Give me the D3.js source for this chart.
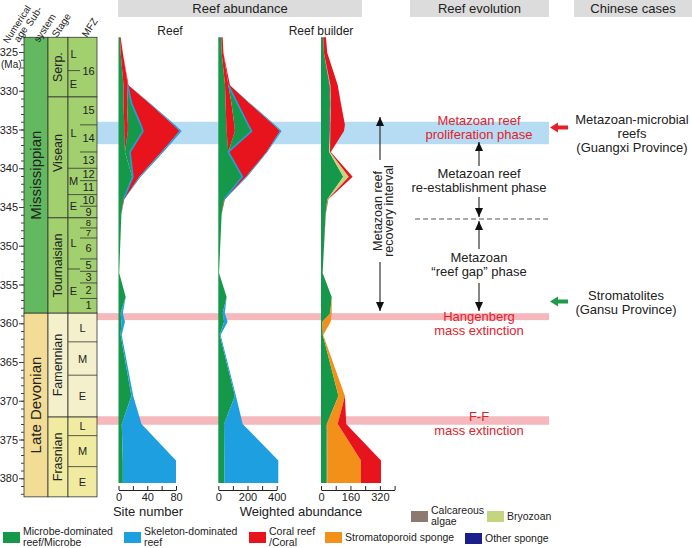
<!DOCTYPE html>
<html>
<head>
<meta charset="utf-8">
<script src="https://cdn.jsdelivr.net/npm/d3@7"></script>
<style>
  body { margin: 0; background: #fff; }
  svg { font-family: Arial, "Liberation Sans", sans-serif; }
</style>
</head>
<body>
<script>
// ---------- data ----------
var ages = [323.1, 325.1, 329.3, 331.6, 334.4, 335.2, 337.9, 341.1, 344.0, 345.9,
            353.5, 356.6, 358.7, 359.8, 361.5, 369.4, 373.0, 377.7, 380.6];

// Reef (site number)
var siteMicrobe        = [2, 3, 7, 7, 8, 8, 9, 19, 7, 4, 1, 10, 3, 4, 3, 18, 4.5, 6, 6];
var siteMicrobeCoral   = [1, 3, 6, 5, 5, 5, 0, 0, 0, 0, 0, 0, 0, 0, 0, 0, 0, 0, 0];
var siteMicrobeB       = [0, 0, 0, 6, 18, 21, 7, 1, 0, 0, 0, 0, 0, 0, 0, 0, 0, 0, 0];
var siteSkeletonCoral  = [0, 0, 1, 25, 45, 51, 44, 9, 1, 0, 0, 0, 0, 0, 0, 0, 0, 0, 0];
var siteSkeleton       = [0, 0, 0, 1, 2.5, 3, 2.5, 2, 0, 0, 0, 0, 3, 5, 1.5, 2.5, 27.5, 74, 74];

// Reef (weighted abundance)
var wtMicrobe          = [20, 23, 46, 50, 55, 57, 69, 165, 40, 23, 5, 57, 30, 40, 10, 114, 39, 41, 41];
var wtMicrobeCoral     = [10, 12, 23, 40, 55, 57, 0, 0, 0, 0, 0, 0, 0, 0, 0, 0, 0, 0, 0];
var wtMicrobeB         = [0, 0, 0, 40, 95, 114, 0, 0, 0, 0, 0, 0, 0, 0, 0, 0, 0, 0, 0];
var wtSkeletonCoral    = [0, 0, 11, 83, 173, 195, 262, 25, 5, 0, 0, 0, 0, 0, 0, 0, 0, 0, 0];
var wtSkeleton         = [0, 0, 0, 5, 10, 11, 5, 8, 0, 0, 0, 0, 15, 24, 6, 7, 128, 370, 370];

// Reef builder (weighted abundance)
var bMicrobe           = [12, 16, 45, 49, 45, 45, 45, 121, 35, 25, 9, 58, 50, 8, 10, 95, 31, 31, 31];
var bAlgae             = [0, 0, 0, 0, 0, 0, 0, 0, 0, 0, 0, 0, 0, 0, 0, 0, 2, 3, 3];
var bOtherSponge       = [0, 0, 3, 3, 3, 3, 0, 0, 0, 0, 0, 0, 0, 0, 0, 0, 0, 0, 0];
var bBryozoan          = [0, 0, 3, 2, 3, 3, 4, 30, 2, 0, 0, 0, 0, 0, 0, 0, 0, 0, 0];
var bStromatoporoid    = [0, 0, 0, 0, 0, 0, 0, 0, 0, 0, 0, 0, 8, 45, 2, 35, 58, 183, 183];
var bCoral             = [15, 18, 40, 54, 79, 74, 4, 21, 3, 1, 0, 0, 0, 0, 0, 0, 46, 109, 109];

// stratigraphy
var subsystems     = ["Mississippian", "Late Devonian"];
var subsystemTops  = [323.1, 358.7];
var subsystemBases = [358.7, 382.4];
var stages         = ["Serp.", "Visean", "Tournaisian", "Famennian", "Frasnian"];
var stageTops      = [323.1, 330.8, 346.4, 358.7, 372.1];
var stageBases     = [330.8, 346.4, 358.7, 372.1, 382.4];
var subLabels      = ["L", "E", "L", "M", "E", "L", "E", "L", "M", "E", "L", "M", "E"];
var subTops        = [323.1, 327.4, 330.8, 340.0, 343.4, 346.4, 353.0, 358.7, 362.4, 366.7, 372.1, 374.5, 378.5];
var subBases       = [327.4, 330.8, 340.0, 343.4, 346.4, 353.0, 358.7, 362.4, 366.7, 372.1, 374.5, 378.5, 382.4];
var zoneLabels     = ["16", "15", "14", "13", "12", "11", "10", "9", "8", "7", "6", "5", "3", "2", "1"];
var zoneTops       = [323.1, 330.8, 334.4, 337.9, 340.0, 341.6, 343.4, 344.9, 346.4, 347.7, 349.0, 351.7, 353.3, 354.8, 356.8];
var zoneBases      = [330.8, 334.4, 337.9, 340.0, 341.6, 343.4, 344.9, 346.4, 347.7, 349.0, 351.7, 353.3, 354.8, 356.8, 358.7];

// events
var proliferation = [334.0, 336.9];
var hangenberg    = [358.7, 359.6];
var frasFam       = [372.0, 373.1];

// axis ticks
var siteTicks = [0, 20, 40, 60, 80],            siteLabels = [0, 40, 80];
var wtTicks   = [0, 100, 200, 300, 400],        wtLabels   = [0, 200, 400];
var bTicks    = [0, 80, 160, 240, 320, 400],    bLabels    = [0, 160, 320];

// colours
var cGreen = "#16984a", cBlue = "#1ea0e0", cRed = "#e8141d", cOrange = "#f39019",
    cNavy = "#1a1f8c", cAlgae = "#8c7a70", cBryo = "#c5d47e";

// ---------- canvas ----------
var svg = d3.select("body").append("svg").attr("width", 692).attr("height", 548);

var y = d3.scaleLinear().domain([325, 380]).range([52, 478.25]);

// header bars
function header(x0, x1, label) {
  svg.append("rect").attr("x", x0).attr("y", 0).attr("width", x1 - x0).attr("height", 17).attr("fill", "#dcdcdc");
  svg.append("text").attr("x", (x0 + x1) / 2).attr("y", 13).attr("text-anchor", "middle")
    .attr("font-size", 13).attr("fill", "#222").text(label);
}
header(118, 362, "Reef abundance");
header(410, 549, "Reef evolution");
header(574, 692, "Chinese cases");

// event bands
svg.append("rect").attr("x", 97).attr("width", 452).attr("y", y(proliferation[0]))
  .attr("height", y(proliferation[1]) - y(proliferation[0])).attr("fill", "#b5dcf2");
[hangenberg, frasFam].forEach(function(b) {
  svg.append("rect").attr("x", 97).attr("width", 452).attr("y", y(b[0]))
    .attr("height", y(b[1]) - y(b[0])).attr("fill", "#f5b9bd");
});

// ---------- stratigraphic columns ----------
var colSub = [24, 48], colStage = [48, 68], colMfz = [68, 97], zoneX = 80;
var strat = svg.append("g");

subsystems.forEach(function(s, i) {
  strat.append("rect").attr("x", colSub[0]).attr("width", colSub[1] - colSub[0])
    .attr("y", y(subsystemTops[i])).attr("height", y(subsystemBases[i]) - y(subsystemTops[i]))
    .attr("fill", i == 0 ? "#62b95f" : "#f2dc96").attr("stroke", "#333").attr("stroke-width", 0.8);
  var cy = (y(subsystemTops[i]) + y(subsystemBases[i])) / 2;
  strat.append("text").attr("transform", "translate(" + 41 + "," + cy + ") rotate(-90)")
    .attr("text-anchor", "middle").attr("font-size", 15).attr("fill", "#222").text(s);
});

var stageFill = ["#a2d06f", "#a2d06f", "#a2d06f", "#f4f0cc", "#f0eba0"];
stages.forEach(function(s, i) {
  [colStage, colMfz].forEach(function(c) {
    strat.append("rect").attr("x", c[0]).attr("width", c[1] - c[0])
      .attr("y", y(stageTops[i])).attr("height", y(stageBases[i]) - y(stageTops[i]))
      .attr("fill", stageFill[i]).attr("stroke", "#333").attr("stroke-width", 0.8);
  });
  var cy = (y(stageTops[i]) + y(stageBases[i])) / 2;
  if (s == "Visean") cy = 153;
  strat.append("text").attr("transform", "translate(" + 62 + "," + cy + ") rotate(-90)")
    .attr("text-anchor", "middle").attr("font-size", 12.5).attr("fill", "#222").text(s);
});

// substages
subLabels.forEach(function(s, i) {
  var devonian = subTops[i] >= 358.7;
  if (i > 0 && stageTops.indexOf(subTops[i]) < 0) {
    strat.append("line").attr("x1", colMfz[0]).attr("x2", devonian ? colMfz[1] : zoneX)
      .attr("y1", y(subTops[i])).attr("y2", y(subTops[i])).attr("stroke", "#333").attr("stroke-width", 0.8);
  }
  strat.append("text").attr("x", devonian ? 82.5 : 73.5).attr("y", (y(subTops[i]) + y(subBases[i])) / 2 + 4)
    .attr("text-anchor", "middle").attr("font-size", 11).attr("fill", "#222").text(s);
});

// zones
zoneLabels.forEach(function(z, i) {
  if (i > 0 && stageTops.indexOf(zoneTops[i]) < 0) {
    strat.append("line").attr("x1", zoneX).attr("x2", colMfz[1])
      .attr("y1", y(zoneTops[i])).attr("y2", y(zoneTops[i])).attr("stroke", "#333").attr("stroke-width", 0.8);
  }
  var cy = (y(zoneTops[i]) + y(zoneBases[i])) / 2;
  if (z == "16") cy = 71;
  var h = y(zoneBases[i]) - y(zoneTops[i]);
  strat.append("text").attr("x", 88.5).attr("y", cy + 3.5).attr("text-anchor", "middle")
    .attr("font-size", h < 11 ? 9.5 : 11).attr("fill", "#222").text(z);
});

// age axis
svg.append("g").attr("transform", "translate(24,0)")
  .call(d3.axisLeft(y).tickValues(d3.range(323, 383)).tickSize(3).tickFormat(""))
  .call(function(g) { g.select(".domain").remove(); g.selectAll("line").attr("stroke", "#444"); });
svg.append("g").attr("transform", "translate(24,0)")
  .call(d3.axisLeft(y).tickValues(d3.range(325, 381, 5)).tickSize(5).tickPadding(1))
  .call(function(g) {
    g.select(".domain").remove();
    g.selectAll("line").attr("stroke", "#444");
    g.selectAll("text").attr("font-size", 11).attr("fill", "#222").attr("font-family", "Arial, 'Liberation Sans', sans-serif");
  });
svg.append("text").attr("x", 1).attr("y", 68).attr("font-size", 10).attr("fill", "#222").text("(Ma)");

// column headings
function tilted(x, yy, label, size) {
  svg.append("text").attr("transform", "translate(" + x + "," + yy + ") rotate(-57)")
    .attr("font-size", size || 10).attr("fill", "#222").text(label);
}
tilted(8, 44, "Numerical", 9.5);
tilted(19, 43, "age");
tilted(31, 27, "Sub-");
tilted(39, 43, "system");
tilted(57, 38, "Stage");
tilted(87, 38, "MFZ");

// ---------- abundance panels ----------
function panel(x, keys, colors, series, blueLineKeys) {
  var rows = ages.map(function(a, i) {
    var o = { age: a };
    keys.forEach(function(k) { o[k] = series[k][i]; });
    return o;
  });
  var stacked = d3.stack().keys(keys)(rows);
  var area = d3.area()
    .y(function(d) { return y(d.data.age); })
    .x0(function(d) { return x(d[0]); })
    .x1(function(d) { return x(d[1]); });
  var g = svg.append("g");
  g.selectAll("path.layer").data(stacked).enter().append("path")
    .attr("class", "layer")
    .attr("d", area)
    .attr("fill", function(d, i) { return colors[i]; });
  if (blueLineKeys) {
    // boundary between microbe-dominated and skeleton-dominated reefs
    var idx = keys.indexOf(blueLineKeys);
    var line = d3.line()
      .defined(function(d) { return d.data[blueLineKeys] > 0; })
      .y(function(d) { return y(d.data.age); })
      .x(function(d) { return x(d[0]); });
    g.append("path").attr("d", line(stacked[idx])).attr("fill", "none")
      .attr("stroke", cBlue).attr("stroke-width", 1.6);
  }
}

function axis(x, ticks, labels, title, titleX) {
  var g = svg.append("g").attr("transform", "translate(0,490)")
    .call(d3.axisBottom(x).tickValues(ticks).tickSizeInner(-4).tickSizeOuter(0).tickPadding(3)
      .tickFormat(function(d) { return labels.indexOf(d) >= 0 ? d : ""; }));
  g.selectAll("line, path").attr("stroke", "#222");
  g.selectAll("text").attr("font-size", 11).attr("fill", "#222").attr("font-family", "Arial, 'Liberation Sans', sans-serif");
  if (title) {
    svg.append("text").attr("x", titleX).attr("y", 516).attr("text-anchor", "middle")
      .attr("font-size", 13).attr("fill", "#222").text(title);
  }
}

var x1 = d3.scaleLinear().domain([0, 80]).range([118.5, 176]);
var x2 = d3.scaleLinear().domain([0, 400]).range([218.3, 276.7]);
var x3 = d3.scaleLinear().domain([0, 400]).range([321, 394.6]);

panel(x1, ["microbe", "microbeCoral", "microbeB", "skeletonCoral", "skeleton"],
  [cGreen, cRed, cGreen, cRed, cBlue],
  { microbe: siteMicrobe, microbeCoral: siteMicrobeCoral, microbeB: siteMicrobeB,
    skeletonCoral: siteSkeletonCoral, skeleton: siteSkeleton }, "skeletonCoral");
panel(x2, ["microbe", "microbeCoral", "microbeB", "skeletonCoral", "skeleton"],
  [cGreen, cRed, cGreen, cRed, cBlue],
  { microbe: wtMicrobe, microbeCoral: wtMicrobeCoral, microbeB: wtMicrobeB,
    skeletonCoral: wtSkeletonCoral, skeleton: wtSkeleton }, "skeletonCoral");
panel(x3, ["microbe", "algae", "otherSponge", "bryozoan", "stromatoporoid", "coral"],
  [cGreen, cAlgae, cNavy, cBryo, cOrange, cRed],
  { microbe: bMicrobe, algae: bAlgae, otherSponge: bOtherSponge, bryozoan: bBryozoan,
    stromatoporoid: bStromatoporoid, coral: bCoral });

axis(x1, siteTicks, siteLabels, "Site number", 148);
axis(x2, wtTicks, wtLabels, "Weighted abundance", 301);
axis(x3, bTicks, bLabels, null);

svg.append("text").attr("x", 170).attr("y", 35).attr("text-anchor", "middle").attr("font-size", 12).attr("fill", "#222").text("Reef");
svg.append("text").attr("x", 321).attr("y", 35).attr("text-anchor", "middle").attr("font-size", 12).attr("fill", "#222").text("Reef builder");

// ---------- reef evolution ----------
function arrowHead(x, tipY, dir) {
  // dir: -1 up, 1 down
  svg.append("path").attr("d", "M" + (x - 4) + "," + (tipY - dir * 9) + "L" + x + "," + tipY + "L" + (x + 4) + "," + (tipY - dir * 9) + "Z")
    .attr("fill", "#111");
}
function vArrow(x, y0, y1, dir) {
  svg.append("line").attr("x1", x).attr("x2", x).attr("y1", y0).attr("y2", y1).attr("stroke", "#333").attr("stroke-width", 1.2);
  arrowHead(x, dir < 0 ? y0 : y1, dir);
}
function label(x, yy, lines, color) {
  lines.forEach(function(t, i) {
    svg.append("text").attr("x", x).attr("y", yy + i * 14).attr("text-anchor", "middle")
      .attr("font-size", 13).attr("fill", color || "#222").text(t);
  });
}

var ex = 479;
label(ex, 125, ["Metazoan reef", "proliferation phase"], "#e3212b");
vArrow(ex, 142, 166, -1);
label(ex, 178, ["Metazoan reef", "re-establishment phase"]);
vArrow(ex, 197, 217, 1);
svg.append("line").attr("x1", 415).attr("x2", 548).attr("y1", 219).attr("y2", 219)
  .attr("stroke", "#555").attr("stroke-dasharray", "5,3");
vArrow(ex, 221, 249, -1);
label(ex, 262, ["Metazoan", "\u201creef gap\u201d phase"]);
vArrow(ex, 283, 311, 1);
label(ex, 321, ["Hangenberg", "mass extinction"], "#e3212b");
label(ex, 421, ["F-F", "mass extinction"], "#e3212b");

// recovery interval
vArrow(380, 117, 160, -1);
vArrow(380, 262, 311, 1);
svg.append("text").attr("transform", "translate(382,211) rotate(-90)").attr("text-anchor", "middle")
  .attr("font-size", 12.5).attr("fill", "#222").text("Metazoan reef");
svg.append("text").attr("transform", "translate(393,211) rotate(-90)").attr("text-anchor", "middle")
  .attr("font-size", 12.5).attr("fill", "#222").text("recovery interval");

// ---------- Chinese cases ----------
function leftArrow(yy, color) {
  svg.append("path").attr("d", "M550," + yy + "L558," + (yy - 5) + "L558," + (yy - 2) + "L568," + (yy - 2) +
    "L568," + (yy + 2) + "L558," + (yy + 2) + "L558," + (yy + 5) + "Z").attr("fill", color);
}
leftArrow(127.5, "#e3212b");
label(632, 124, ["Metazoan-microbial", "reefs", "(Guangxi Province)"]);
leftArrow(301.5, "#1f9a4a");
label(626, 300, ["Stromatolites", "(Gansu Province)"]);

// ---------- legend ----------
function legendItem(x, yy, color, lines) {
  svg.append("rect").attr("x", x).attr("y", yy).attr("width", 17).attr("height", 11).attr("fill", color);
  lines.forEach(function(t, i) {
    svg.append("text").attr("x", x + 20).attr("y", yy + (lines.length == 1 ? 9 : 3 + i * 10.5))
      .attr("font-size", 10.5).attr("fill", "#222").text(t);
  });
}
legendItem(3, 532, cGreen, ["Microbe-dominated", "reef/Microbe"]);
legendItem(124, 532, cBlue, ["Skeleton-dominated", "reef"]);
legendItem(249, 532, cRed, ["Coral reef", "/Coral"]);
legendItem(325, 532, cOrange, ["Stromatoporoid sponge"]);
legendItem(465, 533, cNavy, ["Other sponge"]);
legendItem(411, 511, cAlgae, ["Calcareous", "algae"]);
legendItem(487, 511, cBryo, ["Bryozoan"]);
</script>
</body>
</html>
